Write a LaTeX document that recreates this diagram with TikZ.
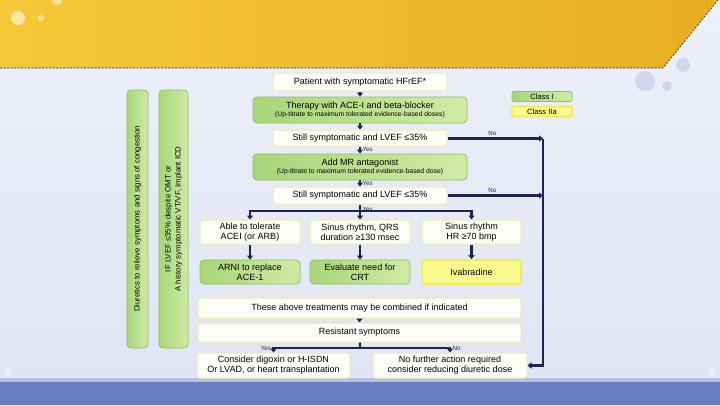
\documentclass[tikz,border=0pt]{standalone}
\usepackage{fontspec}
\setmainfont{Liberation Sans}
\usetikzlibrary{arrows.meta,calc,positioning}
\definecolor{ink}{HTML}{1E2452}
\definecolor{bgtop}{HTML}{EEF0F9}
\definecolor{bgbot}{HTML}{E0E4F3}
\definecolor{golda}{HTML}{F4C938}
\definecolor{goldb}{HTML}{E8AE22}
\definecolor{bandblue}{HTML}{6A7EBF}
\definecolor{bandlite}{HTML}{B7C1E2}
\definecolor{greena}{HTML}{A8D678}
\definecolor{greenb}{HTML}{CFEBA6}
\definecolor{greenedge}{HTML}{8CBF5D}
\definecolor{yellfill}{HTML}{FBFA8E}
\definecolor{yelledge}{HTML}{F1EC55}
\definecolor{boxfill}{HTML}{FDFDF7}
\definecolor{boxedge}{HTML}{EEEAAA}
\newcommand{\txt}{\fontsize{9}{10}\selectfont}
\newcommand{\smalltxt}{\fontsize{6.8}{7.5}\selectfont}
\newcommand{\bartxt}{\fontsize{7.8}{10}\selectfont}
\newcommand{\labtxt}{\fontsize{6.2}{7}\selectfont}

\begin{document}
\begin{tikzpicture}[x=1pt,y=-1pt,
  plainbox/.style={draw=boxedge,line width=1pt,fill=boxfill,rounded corners=2pt,align=center,font=\txt,inner sep=1pt},
  greenbox/.style={draw=greenedge,line width=0.8pt,left color=greena,right color=greenb,rounded corners=4pt,align=center,font=\txt,inner sep=1pt},
  yellbox/.style={draw=yelledge,line width=1.6pt,fill=yellfill,rounded corners=3pt,align=center,font=\txt,inner sep=1pt},
  flow/.style={ink,line width=2.2pt,-{Triangle[length=4pt,width=6pt]}},
  lab/.style={font=\labtxt,text=ink,inner sep=1.5pt}]
\useasboundingbox (0,0) rectangle (720,405);
\shade[top color=bgtop,bottom color=bgbot] (0,0) rectangle (720,405);
\shade[left color=golda,right color=goldb] (0,0) -- (718,0) -- (663,68) -- (0,68) -- cycle;
\draw[ink,line width=0.6pt,dash pattern=on 2pt off 1.5pt] (0,68) -- (663,68) -- (718,0);
\foreach \cx/\cy/\r in {18/18/7,41/18/3,57/0/5}
{\fill[white,opacity=0.55] (\cx,\cy) circle (\r);}
\foreach \cx/\cy/\r in {645/81/10,683/65/7,667/86/5}
{\fill[bandblue,opacity=0.2] (\cx,\cy) circle (\r);}
\fill[bandlite] (0,378) rectangle (720,384);
\fill[bandblue] (0,382) rectangle (720,405);
\foreach \cx/\cy/\r in {8/372/4,712/372/4}
{\fill[white,opacity=0.35] (\cx,\cy) circle (\r);}

\node[plainbox,minimum width=174,minimum height=18] (patient) at (360,82) {Patient with symptomatic HFrEF*};
\node[greenbox,minimum width=214,minimum height=26] (therapy) at (360,110) {Therapy with ACE-I and beta-blocker\\[-2pt]{\smalltxt(Up-titrate to maximum tolerated evidence-based doses)}};
\node[plainbox,minimum width=174,minimum height=16] (still1) at (360,138) {Still symptomatic and LVEF ≤35\%};
\node[greenbox,minimum width=214,minimum height=26] (addmr) at (360,167) {Add MR antagonist\\[-2pt]{\smalltxt(Up-titrate to maximum tolerated evidence-based dose)}};
\node[plainbox,minimum width=174,minimum height=17] (still2) at (360,195.5) {Still symptomatic and LVEF ≤35\%};
\node[plainbox,minimum width=100,minimum height=24] (tolerate) at (250,232) {Able to tolerate\\ACEI (or ARB)};
\node[plainbox,minimum width=100,minimum height=24] (sinus) at (360,232) {Sinus rhythm, QRS\\duration ≥130 msec};
\node[plainbox,minimum width=99,minimum height=24] (sinushr) at (471.5,232) {Sinus rhythm\\HR ≥70 bmp};
\node[greenbox,minimum width=100,minimum height=24] (arni) at (250,272) {ARNI to replace\\ACE-1};
\node[greenbox,minimum width=100,minimum height=24] (crt) at (360,272) {Evaluate need for\\CRT};
\node[yellbox,minimum width=99,minimum height=24] (ivab) at (471.5,272) {Ivabradine};
\node[plainbox,minimum width=323,minimum height=20] (combine) at (359.5,308) {These above treatments may be combined if indicated};
\node[plainbox,minimum width=323,minimum height=19] (resist) at (359.5,332.5) {Resistant symptoms};
\node[plainbox,minimum width=153,minimum height=25] (digoxin) at (273.5,365.5) {Consider digoxin or H-ISDN\\Or LVAD, or heart transplantation};
\node[plainbox,minimum width=154,minimum height=25] (nofurther) at (450,365.5) {No further action required\\consider reducing diuretic dose};

\node[greenbox,rotate=90,minimum width=258,minimum height=21,font=\bartxt] (diuretic) at (137.5,219) {Diuretics to relieve symptoms and signs of congestion};
\node[greenbox,rotate=90,minimum width=258,minimum height=29,font=\bartxt] (icd) at (173.5,219) {IF LVEF ≤35\% despite OMT or\\A history symptomatic VT/VF, Implant ICD};

\node[greenbox,minimum width=60,minimum height=10,rounded corners=2pt,font=\fontsize{7.6}{8}\selectfont] (classone) at (542,96.5) {Class I};
\node[yellbox,minimum width=60,minimum height=10,rounded corners=1pt,font=\fontsize{7.6}{8}\selectfont] (classtwo) at (542,111.5) {Class IIa};

\coordinate (split) at (360,211);
\coordinate (splittwo) at (360,348);
\coordinate (rail) at (543,138.5);
\draw[flow] (patient) -- (therapy);
\draw[flow] (therapy) -- (still1);
\draw[flow] (still1) -- node[lab,right,pos=0.45]{Yes} (addmr);
\draw[flow] (addmr) -- node[lab,right,pos=0.45]{Yes} (still2);
\draw[flow] (still2) -- node[lab,right,pos=0.3]{Yes} (sinus);
\draw[flow] (split) -| (tolerate.north);
\draw[flow] (split) -| (sinushr.north);
\draw[flow] (tolerate) -- (arni);
\draw[flow] (sinus) -- (crt);
\draw[flow] (sinushr) -- (ivab);
\draw[flow] (combine) -- (resist);
\draw[ink,line width=2.2pt] (resist) -- (splittwo);
\draw[flow] (splittwo) -| node[lab,left,pos=0.5]{Yes} (digoxin.north);
\draw[flow] (splittwo) -| node[lab,right,pos=0.5]{No} (nofurther.north);
\draw[flow] (still1.east |- rail) -- node[lab,above,pos=0.47]{No} (rail);
\draw[flow] (still2.east) -- node[lab,above,pos=0.47]{No} (still2.east -| rail);
\draw[flow] (rail) |- (nofurther.east);
\end{tikzpicture}
\end{document}
